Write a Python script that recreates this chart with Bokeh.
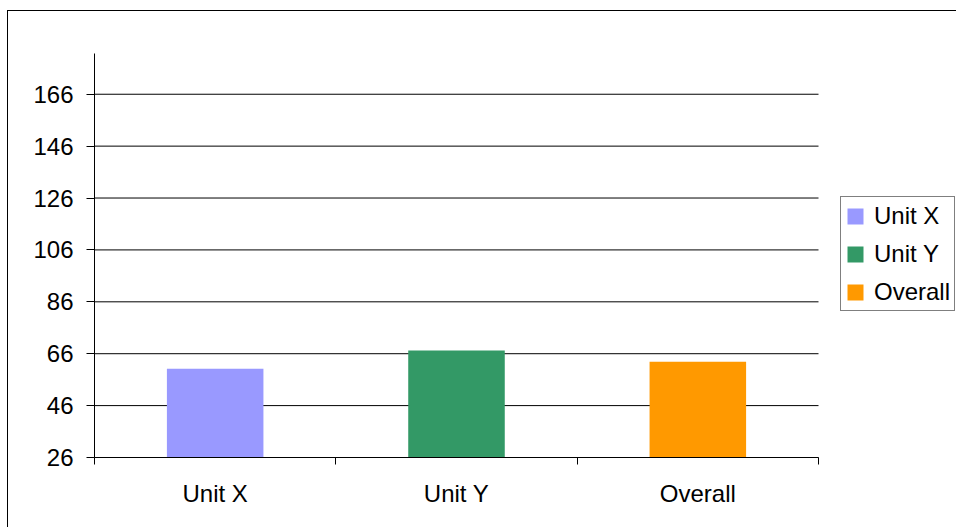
from bokeh.plotting import figure
from bokeh.models import Range1d, FixedTicker, Legend, LegendItem
from bokeh.embed import file_html
from bokeh.resources import INLINE

# Chart data
categories = ["Unit X", "Unit Y", "Overall"]
values = [60.2, 67.2, 62.9]
colors = ["#9999FF", "#339966", "#FF9900"]
y_ticks = [26, 46, 66, 86, 106, 126, 146, 166]
y_min, y_max = 26, 181.7

FONT = "Liberation Sans"
FONT_SIZE = "24px"

# Layout (pixels): the frame runs to the right edge so the legend box can sit
# inside it; the bars, grid and x axis only use the left part of the frame.
FIG_W, FIG_H = 949, 517
BORDER_L, BORDER_T, BORDER_B = 86, 42, 71
PLOT_W = 724                        # width used by the categories
FRAME_W = FIG_W - BORDER_L
n = len(categories)
x_end = n * FRAME_W / PLOT_W

p = figure(
    width=FIG_W, height=FIG_H,
    output_backend="svg", toolbar_location=None,
    x_range=Range1d(0, x_end),
    y_range=Range1d(y_min, y_max),
    min_border_left=BORDER_L, min_border_right=0,
    min_border_top=BORDER_T, min_border_bottom=BORDER_B,
)
p.outline_line_color = None
p.background_fill_color = "white"
p.border_fill_color = "white"
# Chart-area frame: only the left and top edges fall inside the page
p.styles = {
    "margin-left": "7px",
    "margin-top": "10px",
    "border-left": "1px solid black",
    "border-top": "1px solid black",
    "border-right": "0px none",
    "border-bottom": "0px none",
    "outline": "none",
    "box-shadow": "none",
}

# Horizontal gridlines, limited to the category span
p.segment(x0=[0] * len(y_ticks), x1=[n] * len(y_ticks), y0=y_ticks, y1=y_ticks,
          line_color="black", line_width=1)

# One bar per category, centred in its slot
items = []
for i, (cat, val, col) in enumerate(zip(categories, values, colors)):
    r = p.vbar(x=[i + 0.5], top=[val], bottom=y_min, width=0.4,
               fill_color=col, line_color=None)
    items.append(LegendItem(label=cat, renderers=[r]))

# X axis: labels at slot centres, tick marks at slot boundaries
centers = [i + 0.5 for i in range(n)]
bounds = list(range(n + 1))
xaxis = p.xaxis[0]
xaxis.bounds = (0, n)
xaxis.ticker = FixedTicker(ticks=centers, minor_ticks=bounds)
xaxis.major_label_overrides = {c: cat for c, cat in zip(centers, categories)}
xaxis.major_tick_out = 0
xaxis.major_tick_in = 0
xaxis.minor_tick_out = 7
xaxis.minor_tick_in = 0
xaxis.minor_tick_line_color = "black"
xaxis.axis_line_color = "black"
xaxis.major_label_standoff = 15
xaxis.major_label_text_font = FONT
xaxis.major_label_text_font_size = FONT_SIZE
xaxis.major_label_text_color = "black"

# Y axis
yaxis = p.yaxis[0]
yticker = FixedTicker(ticks=y_ticks)
yaxis.ticker = yticker
yaxis.major_tick_out = 8
yaxis.major_tick_in = 0
yaxis.minor_tick_line_color = None
yaxis.major_tick_line_color = "black"
yaxis.axis_line_color = "black"
yaxis.major_label_standoff = 13
yaxis.major_label_text_font = FONT
yaxis.major_label_text_font_size = FONT_SIZE
yaxis.major_label_text_color = "black"

p.xgrid.visible = False
p.ygrid.visible = False

# Legend box to the right of the bars
legend = Legend(
    items=items, location=(746, 146),
    label_text_font=FONT, label_text_font_size=FONT_SIZE,
    label_text_color="black",
    glyph_width=20, glyph_height=20,
    label_height=29, spacing=9, padding=4, margin=0,
    label_standoff=9,
    border_line_color="black", border_line_width=1,
    background_fill_color="white", background_fill_alpha=1,
)
p.add_layout(legend)

open("out.html", "w").write(file_html(p, INLINE))
